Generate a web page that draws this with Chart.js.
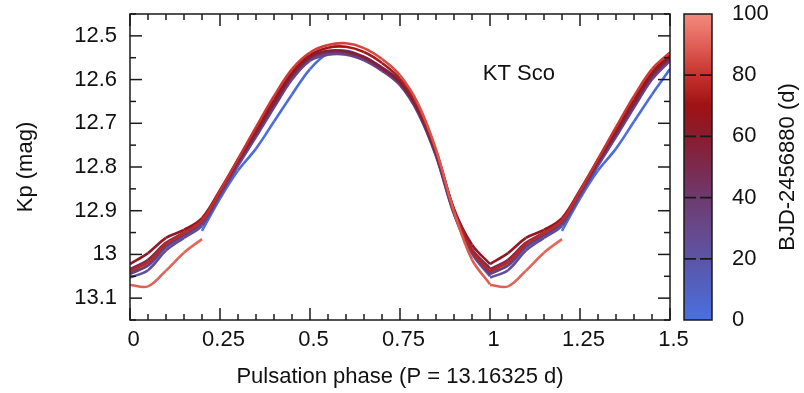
<!DOCTYPE html>
<html>
<head>
<meta charset="utf-8">
<script src="https://cdn.jsdelivr.net/npm/chart.js@4.4.0/dist/chart.umd.min.js"></script>
<style>
  html, body { margin: 0; padding: 0; background: #fff; }
</style>
</head>
<body>
<canvas id="lightCurve" width="804" height="393"></canvas>
<script>
// folded K2 light curve, one line per pulsation cycle
const period = 13.16325;
const startPhase = 0.21;

const phaseGrid = [0, 0.05, 0.1, 0.15, 0.2, 0.25, 0.3, 0.35, 0.4, 0.45, 0.5,
                   0.55, 0.6, 0.65, 0.7, 0.75, 0.8, 0.85, 0.9, 0.95, 1];
const xTicks = [0, 0.25, 0.5, 0.75, 1, 1.25, 1.5];
const yTicks = [12.5, 12.6, 12.7, 12.8, 12.9, 13, 13.1];
const cbarTicks = [0, 20, 40, 60, 80, 100];

const cycle0 = [null, null, null, null, 12.946, 12.872, 12.808, 12.758, 12.696, 12.634, 12.576,
                12.540, 12.534, 12.548, 12.572, 12.604, 12.666, 12.765, 12.900, 12.995, 13.040];
const cycle1 = [13.040, 13.026, 12.984, 12.957, 12.928, 12.862, 12.794, 12.729, 12.662, 12.597, 12.553,
                12.538, 12.538, 12.552, 12.578, 12.611, 12.674, 12.773, 12.906, 12.998, 13.050];
const cycle2 = [13.053, 13.036, 12.991, 12.962, 12.934, 12.866, 12.797, 12.731, 12.664, 12.600, 12.557,
                12.543, 12.543, 12.556, 12.580, 12.613, 12.676, 12.775, 12.908, 12.996, 13.045];
const cycle3 = [13.045, 13.024, 12.981, 12.955, 12.927, 12.860, 12.791, 12.725, 12.658, 12.593, 12.551,
                12.537, 12.538, 12.551, 12.576, 12.608, 12.671, 12.770, 12.902, 12.988, 13.032];
const cycle4 = [13.034, 13.012, 12.973, 12.950, 12.921, 12.856, 12.787, 12.721, 12.654, 12.589, 12.548,
                12.534, 12.535, 12.548, 12.573, 12.605, 12.668, 12.766, 12.896, 12.978, 13.022];
const cycle5 = [13.022, 12.997, 12.962, 12.944, 12.917, 12.853, 12.783, 12.714, 12.646, 12.583, 12.544,
                12.527, 12.525, 12.537, 12.562, 12.598, 12.662, 12.763, 12.898, 12.992, 13.040];
const cycle6 = [13.038, 13.018, 12.976, 12.951, 12.922, 12.855, 12.782, 12.709, 12.638, 12.576, 12.538,
                12.521, 12.517, 12.528, 12.553, 12.590, 12.655, 12.760, 12.902, 13.012, 13.068];
const cycle7 = [13.070, 13.073, 13.037, 12.996, 12.965, null, null, null, null, null, null,
                null, null, null, null, null, null, null, null, null, null];
const cycles = [cycle0, cycle1, cycle2, cycle3, cycle4, cycle5, cycle6, cycle7];

// blue -> purple -> dark red -> salmon
const cmapStops = [
    [0, [74, 112, 226]], [10, [82, 98, 194]], [20, [92, 84, 166]], [30, [104, 72, 138]],
    [40, [110, 58, 110]], [50, [124, 42, 78]], [60, [138, 28, 46]], [70, [158, 18, 20]],
    [80, [198, 50, 44]], [90, [224, 96, 88]], [100, [242, 138, 126]]
];

const FONT = "'Liberation Sans', Arial, Helvetica, sans-serif";
const INK = '#111';

function colorAt(t) {
    const v = Math.max(0, Math.min(100, t));
    for (let i = 1; i < cmapStops.length; i++) {
        const [v1, c1] = cmapStops[i];
        if (v <= v1) {
            const [v0, c0] = cmapStops[i - 1];
            const f = (v - v0) / (v1 - v0);
            return 'rgb(' + c0.map((c, j) => Math.round(c + (c1[j] - c) * f)).join(',') + ')';
        }
    }
    return 'rgb(' + cmapStops[cmapStops.length - 1][1].join(',') + ')';
}

function fmt(v) {
    return String(+Number(v).toFixed(2));
}

// keep label half-heights from pushing the plot area around
function noEdgePadding(s) {
    s.paddingTop = 0;
    s.paddingBottom = 0;
    s.paddingLeft = 0;
    s.paddingRight = 0;
}

const datasets = cycles.map((mags, k) => {
    const pts = [];
    phaseGrid.forEach((ph, i) => {
        pts.push({ x: ph, y: mags[i], t: (k + ph - startPhase) * period });
    });
    pts.push({ x: 1, y: null, t: 0 });
    phaseGrid.forEach((ph, i) => {
        if (ph <= 0.5) pts.push({ x: ph + 1, y: mags[i], t: (k + ph - startPhase) * period });
    });
    return {
        data: pts,
        order: cycles.length - k,
        borderWidth: 2.6,
        pointRadius: 0,
        tension: 0.35,
        fill: false,
        borderColor: colorAt((k + 0.5) * period),
        segment: {
            borderColor: c => colorAt((pts[c.p0DataIndex].t + pts[c.p1DataIndex].t) / 2)
        }
    };
});

const frameAndColorbar = {
    id: 'frameAndColorbar',
    afterDraw(chart) {
        const { ctx, chartArea: a, scales: { x, y, cb } } = chart;
        ctx.save();
        ctx.strokeStyle = '#1a1a1a';
        ctx.lineWidth = 1.5;

        const seg = (x0, y0, x1, y1) => {
            ctx.beginPath();
            ctx.moveTo(x0, y0);
            ctx.lineTo(x1, y1);
            ctx.stroke();
        };

        // inward ticks on all four sides
        for (let i = 0; i <= 30; i++) {
            const px = x.getPixelForValue(i * 0.05);
            const len = i % 5 === 0 ? 12 : 6;
            seg(px, a.bottom, px, a.bottom - len);
            seg(px, a.top, px, a.top + len);
        }
        for (let i = 0; i <= 14; i++) {
            const py = y.getPixelForValue(12.45 + i * 0.05);
            const len = i % 2 === 1 ? 12 : 6;
            seg(a.left, py, a.left + len, py);
            seg(a.right, py, a.right - len, py);
        }
        ctx.strokeRect(a.left, a.top, a.right - a.left, a.bottom - a.top);

        // colour bar
        const bx = a.right + 14, bw = 28;
        const top = cb.getPixelForValue(100), bot = cb.getPixelForValue(0);
        const grad = ctx.createLinearGradient(0, bot, 0, top);
        cmapStops.forEach(([v, c]) => grad.addColorStop(v / 100, 'rgb(' + c.join(',') + ')'));
        ctx.fillStyle = grad;
        ctx.fillRect(bx, top, bw, bot - top);
        ctx.setLineDash([12, 4]);
        ctx.lineWidth = 1.8;
        cbarTicks.slice(1, -1).forEach(v => {
            const py = cb.getPixelForValue(v);
            seg(bx, py, bx + bw, py);
        });
        ctx.setLineDash([]);
        ctx.lineWidth = 1.5;
        ctx.strokeRect(bx, top, bw, bot - top);

        // colour bar title, reading bottom to top
        ctx.fillStyle = INK;
        ctx.font = '22px ' + FONT;
        ctx.textAlign = 'center';
        ctx.textBaseline = 'middle';
        ctx.save();
        ctx.translate(788, (top + bot) / 2);
        ctx.rotate(-Math.PI / 2);
        ctx.fillText('BJD-2456880 (d)', 0, 0);
        ctx.restore();

        ctx.fillText('KT Sco', x.getPixelForValue(1.08), y.getPixelForValue(12.588));
        ctx.restore();
    }
};

const tickFont = { family: FONT, size: 22 };

new Chart(document.getElementById('lightCurve'), {
    type: 'line',
    data: { datasets },
    options: {
        responsive: false,
        animation: false,
        devicePixelRatio: 1,
        layout: { padding: { top: 14, left: 0, right: 0, bottom: 0 } },
        plugins: { legend: { display: false }, tooltip: { enabled: false } },
        scales: {
            x: {
                type: 'linear', min: 0, max: 1.5,
                afterBuildTicks: s => { s.ticks = xTicks.map(v => ({ value: v })); },
                afterFit: s => { s.height = 73; noEdgePadding(s); },
                grid: { display: false, drawTicks: false },
                border: { display: false },
                ticks: { padding: 7, labelOffset: 3.5, maxRotation: 0, font: tickFont, color: INK, callback: v => fmt(v) },
                title: { display: true, text: 'Pulsation phase (P = 13.16325 d)', font: tickFont, color: INK, padding: { top: 3, bottom: 3 } }
            },
            y: {
                type: 'linear', position: 'left', reverse: true, min: 12.45, max: 13.15,
                afterBuildTicks: s => { s.ticks = yTicks.map(v => ({ value: v })); },
                afterFit: s => { s.width = 130; noEdgePadding(s); },
                grid: { display: false, drawTicks: false },
                border: { display: false },
                ticks: { padding: 13, font: tickFont, color: INK, callback: v => fmt(v) },
                title: { display: true, text: 'Kp (mag)', font: tickFont, color: INK, padding: { top: 13, bottom: 0 } }
            },
            cb: {
                type: 'linear', position: 'right', min: 0, max: 100,
                afterBuildTicks: s => { s.ticks = cbarTicks.map(v => ({ value: v })); },
                afterFit: s => { s.width = 134; noEdgePadding(s); },
                grid: { display: false, drawTicks: false },
                border: { display: false },
                ticks: { padding: 62, crossAlign: 'near', font: tickFont, color: INK, callback: v => fmt(v) }
            }
        }
    },
    plugins: [frameAndColorbar]
});
</script>
</body>
</html>
